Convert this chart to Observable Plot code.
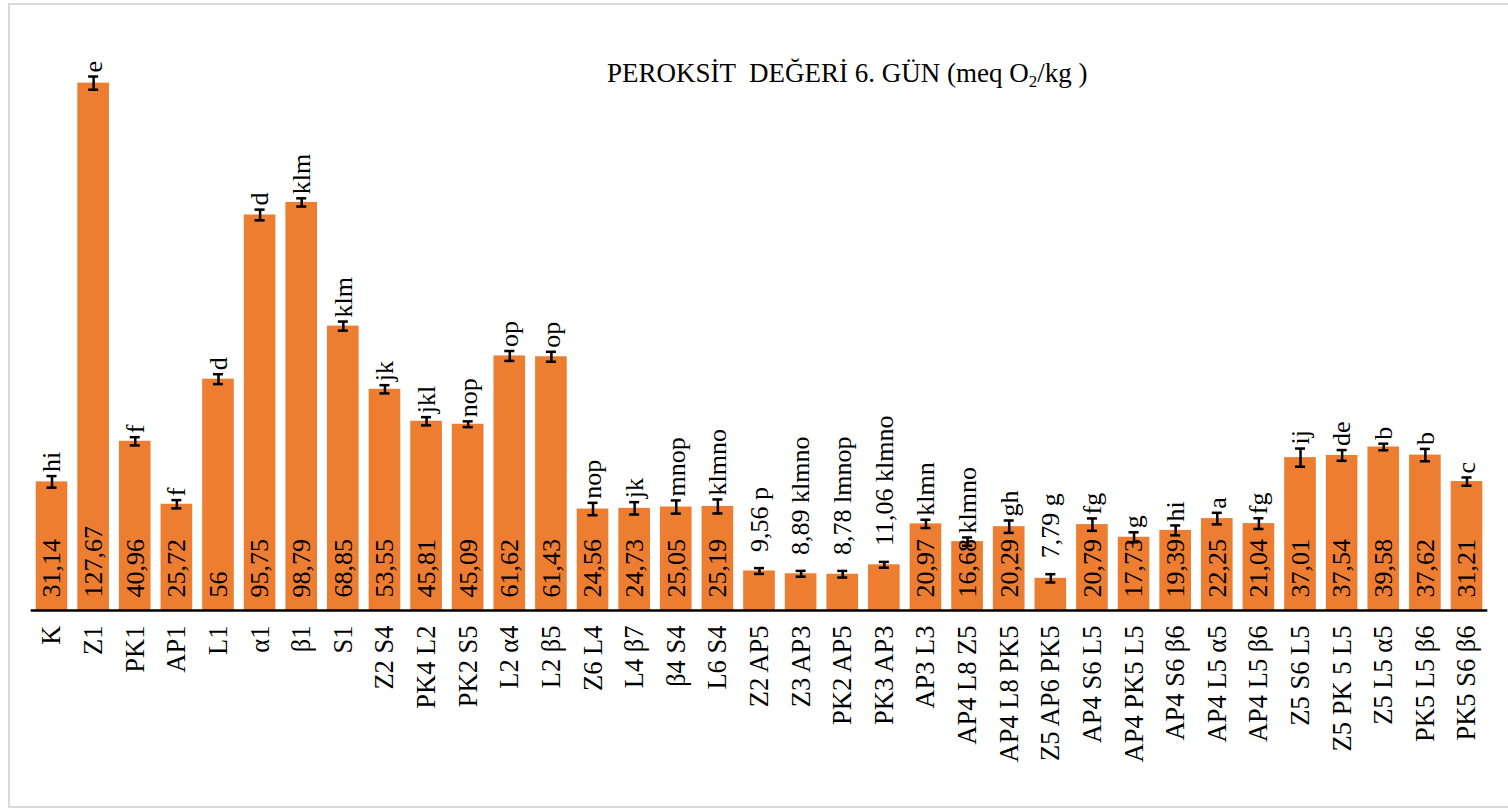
<!DOCTYPE html>
<html><head><meta charset="utf-8">
<script src="https://cdn.jsdelivr.net/npm/d3@7"></script>
<script src="https://cdn.jsdelivr.net/npm/@observablehq/plot@0.6"></script>
<style>
body{margin:0;background:#fff;}
#wrap{position:relative;width:1508px;height:810px;overflow:hidden;background:#fff;}
#frame{position:absolute;left:8px;top:3px;width:1510px;height:805px;border:2px solid #d9d9d9;box-sizing:border-box;}
#chart{position:absolute;left:0;top:0;}
#title{position:absolute;left:607px;top:60px;font-family:"Liberation Serif",serif;font-size:27px;line-height:27px;white-space:pre;color:#000;}
#title sub{font-size:17px;vertical-align:-5px;line-height:0;}
</style></head>
<body>
<div id="wrap"><div id="frame"></div><div id="chart"></div><div id="title">PEROKSİT  DEĞERİ 6. GÜN (meq O<sub>2</sub>/kg )</div></div>
<script>
const categories = ["K","Z1","PK1","AP1","L1","α1","β1","S1","Z2 S4","PK4 L2","PK2 S5","L2 α4","L2 β5","Z6 L4","L4 β7","β4 S4","L6 S4","Z2 AP5","Z3 AP3","PK2 AP5","PK3 AP3","AP3 L3","AP4 L8 Z5","AP4 L8 PK5","Z5 AP6 PK5","AP4 S6 L5","AP4 PK5 L5","AP4 S6 β6","AP4 L5 α5","AP4 L5 β6","Z5 S6 L5","Z5 PK 5 L5","Z5 L5 α5","PK5 L5 β6","PK5 S6 β6"];
const values = [31.14,127.67,40.96,25.72,56,95.75,98.79,68.85,53.55,45.81,45.09,61.62,61.43,24.56,24.73,25.05,25.19,9.56,8.89,8.78,11.06,20.97,16.68,20.29,7.79,20.79,17.73,19.39,22.25,21.04,37.01,37.54,39.58,37.62,31.21];
const errors = [1.4,1.6,1.0,1.0,1.2,1.3,1.0,1.1,1.0,1.0,0.7,1.2,1.2,1.5,1.5,1.6,1.7,0.7,0.7,0.8,0.7,1.0,1.0,1.5,1.0,1.5,1.2,1.2,1.4,1.3,2.2,1.3,0.8,1.5,1.0];
const letters = ["hi","e","f","f","d","d","klm","klm","jk","jkl","nop","op","op","nop","jk","mnop","klmno","p","klmno","lmnop","klmno","klmn","klmno","gh","g","fg","g","hi","a","fg","ij","de","b","b","c"];

const data = categories.map((c, i) => ({c, v: values[i], e: errors[i], l: letters[i]}));
const fmt = v => String(v).replace(".", ",");
const tall = data.filter(d => d.v >= 15);
const short = data.filter(d => d.v < 15);

const chart = Plot.plot({
  width: 1508,
  height: 810,
  marginLeft: 30.7,
  marginRight: 20.7,
  marginTop: 73,
  marginBottom: 200,
  style: {fontFamily: "Liberation Serif", background: "transparent", overflow: "visible", color: "#000"},
  x: {domain: categories, paddingInner: 0.24, paddingOuter: 0.12, round: false, axis: null},
  y: {domain: [0, 130], axis: null},
  marks: [
    Plot.barY(data, {x: "c", y: "v", fill: "#ED7D31"}),
    Plot.ruleY([0], {stroke: "#000", strokeWidth: 2.5}),
    Plot.ruleX(data, {x: "c", y1: d => d.v - d.e, y2: d => d.v + d.e, stroke: "#000", strokeWidth: 2.5}),
    Plot.tickY(data, {x: "c", y: d => d.v + d.e, inset: 10.8, stroke: "#000", strokeWidth: 2.5}),
    Plot.tickY(data, {x: "c", y: d => d.v - d.e, inset: 10.8, stroke: "#000", strokeWidth: 2.5}),
    Plot.text(tall, {x: "c", y: 0, text: d => fmt(d.v), rotate: -90, textAnchor: "start", dy: -13, fontSize: 26, fill: "#000"}),
    Plot.text(tall, {x: "c", y: d => d.v + d.e, text: "l", rotate: -90, textAnchor: "start", dy: -4, fontSize: 26, fill: "#000"}),
    Plot.text(short, {x: "c", y: d => d.v + d.e, text: d => fmt(d.v) + " " + d.l, rotate: -90, textAnchor: "start", dy: -16, fontSize: 26, fill: "#000"}),
    Plot.text(categories, {x: d => d, y: 0, text: d => d, rotate: -90, textAnchor: "end", dy: 15, fontSize: 26.5, fill: "#000"})
  ]
});
document.getElementById("chart").appendChild(chart);
</script>
</body></html>
